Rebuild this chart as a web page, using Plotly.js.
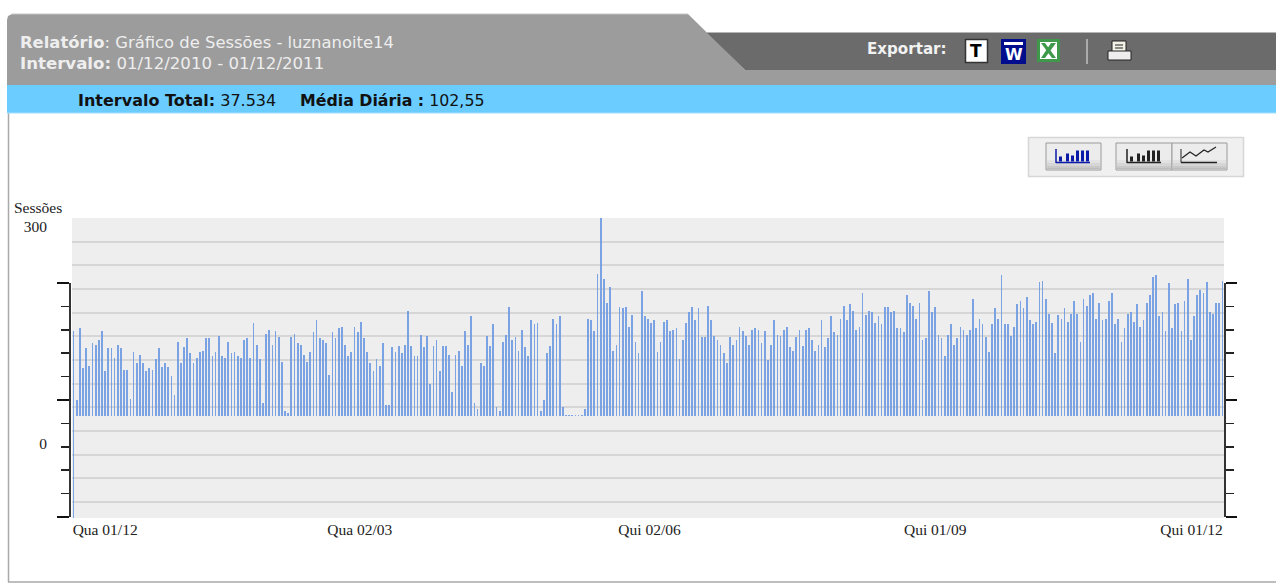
<!DOCTYPE html>
<html><head><meta charset="utf-8">
<script src="https://cdn.plot.ly/plotly-3.0.1.min.js"></script>
<style>html,body{margin:0;padding:0;background:#fff;overflow:hidden}#g{width:1276px;height:583px}</style>
</head><body><div id="g"></div>
<script>
const sessions = [
129,24,133,73,103,76,110,108,115,129,
68,103,103,88,108,103,70,70,26,97,
80,93,80,68,73,70,86,103,74,80,
74,60,32,112,80,105,118,95,80,88,
97,99,118,118,91,97,121,91,88,112,
95,97,91,88,115,118,88,141,108,86,
20,124,131,108,129,120,82,8,4,120,
124,110,108,93,82,97,127,145,118,115,
110,62,127,118,133,135,108,91,97,135,
127,143,118,97,80,68,87,76,110,16,
16,104,97,106,95,108,159,106,91,91,
123,104,121,48,106,115,68,106,106,93,
36,93,99,76,129,108,151,20,10,81,
76,121,106,139,14,8,112,123,165,115,
119,99,131,104,91,145,139,141,8,24,
95,106,147,139,151,14,2,2,2,2,
2,2,10,147,145,129,215,300,207,171,
195,99,108,165,163,165,135,153,112,95,
189,151,147,141,145,97,112,143,145,129,
131,133,87,115,141,157,165,145,163,119,
119,167,145,121,115,108,95,81,119,108,
115,135,129,121,108,131,133,131,110,129,
85,108,145,123,121,131,135,104,99,119,
131,106,131,133,115,99,108,145,104,118,
151,127,123,147,167,145,169,159,131,135,
187,153,159,157,141,151,139,165,165,157,
159,133,133,127,183,171,167,147,171,115,
118,189,157,165,123,118,91,123,139,108,
118,135,131,123,131,177,133,147,139,119,
97,139,163,147,213,139,139,121,135,169,
175,163,181,145,139,143,203,205,177,155,
141,95,153,147,163,143,155,175,155,112,
177,167,183,187,147,171,145,147,175,187,
139,147,112,133,155,157,143,169,135,145,
171,183,211,213,151,157,129,201,133,169,
171,129,175,207,115,151,183,191,187,203,
157,155,171,171,205];
const firstDayDrop = [-155];
const dayIndex = sessions.map((_, i) => i);
const xTickDays = [10, 90.7, 182.5, 273, 354.2];
const xTickLabels = ['Qua 01/12', 'Qua 02/03', 'Qui 02/06', 'Qui 01/09', 'Qui 01/12'];
const yTickVals = [0, 300];
const yTickLabels = ['0', '300'];

// L/R bound the scale axes; the bars and gridlines occupy PL..PR inside them
const L = 70, R = 1225, PL = 72, PR = 1224, T = 218, B = 518;
const px = x => (x - L) / (R - L);
const py = y => (B - y) / (B - T);
const SANS = 'DejaVu Sans', SERIF = 'Liberation Serif';

const shapes = [];
const rect = (x0, y0, x1, y1, fill, line, w, layer) => shapes.push({type:'rect', xref:'paper', yref:'paper', layer:layer||'above',
  x0:px(x0), x1:px(x1), y0:py(y0), y1:py(y1), fillcolor:fill||'rgba(0,0,0,0)',
  line:{color:line||'rgba(0,0,0,0)', width:line?(w||1):0}});
const poly = (pts, fill, line, w) => shapes.push({type:'path', xref:'paper', yref:'paper',
  path:'M'+pts.map(p => px(p[0])+','+py(p[1])).join('L')+'Z', fillcolor:fill||'rgba(0,0,0,0)',
  line:{color:line||'rgba(0,0,0,0)', width:line?(w||1):0}});
const seg = (x0, y0, x1, y1, c, w) => shapes.push({type:'line', xref:'paper', yref:'paper',
  x0:px(x0), x1:px(x1), y0:py(y0), y1:py(y1), line:{color:c, width:w||1}});

// plot background, beneath every subplot layer
rect(PL, T, PR, B, '#eeeeee', null, 0, 'below');
// frame
seg(8.5, 113, 8.5, 582, '#a9a9a9', 1.5);
seg(8, 582, 1276, 582, '#a9a9a9', 1.5);
// header
poly([[7,85],[7,20],[8,16],[12,14],[688,14],[745,70],[1276,70],[1276,85]], '#9c9c9c');
poly([[707,33],[1276,33],[1276,70],[745,70]], '#6b6b6b');
seg(12, 14, 688, 14, '#c4c4c4', 1);
seg(707, 32.5, 1276, 32.5, '#b5b5b5', 1);
rect(7, 85, 1276, 113, '#6accff');
seg(7, 113, 1276, 113, '#a5e0ff', 1);
// export icons
rect(965.5, 39.5, 987.5, 62.5, '#ffffff', '#333333', 1.5);
rect(1001, 39, 1026, 64, '#000d8c');
rect(1004, 42, 1023, 45, '#ffffff');
rect(1037, 39, 1060, 62, '#3e9a4a');
rect(1040, 42, 1057, 59, '#ffffff');
poly([[1041,43],[1045,43],[1056,58],[1052,58]], '#3e9a4a');
poly([[1051,43],[1056,43],[1045,58],[1041,58]], '#3e9a4a');
seg(1087, 39, 1087, 64, '#c0c0c0', 1.5);
// printer
rect(1112, 41, 1126, 52, '#f2f2e6', '#222222', 1);
rect(1108, 51, 1131, 60, '#eeeeee', '#222222', 1);
seg(1115, 45, 1123, 45, '#222222', 1);
seg(1115, 48, 1123, 48, '#222222', 1);
// chart-type buttons
rect(1028.5, 137.5, 1243.5, 176.5, '#f0f0f0', '#d6d6d6', 1.5);
const button = (x0, x1) => {
  rect(x0, 143, x1, 170, '#ececec', '#9a9a9a', 1);
  [[160,'#e2e2e2'],[163,'#d6d6d6'],[166,'#c8c8c8'],[168,'#bcbcbc']].forEach(b => rect(x0+1, b[0], x1-1, 169.5, b[1]));
};
button(1046, 1101); button(1116, 1172); button(1172, 1227);
const mini = (x0, c) => {
  [[3,5],[10,8],[15,6],[20,11],[25,11],[30,11]].forEach(b => rect(x0+b[0], 161.5-b[1], x0+b[0]+3, 161.5, c));
  seg(x0, 149, x0, 163, c, 1.5);
  seg(x0, 162.5, x0+34, 162.5, c, 1.5);
};
mini(1056, '#0b1aa8'); mini(1127, '#222222');
seg(1181, 149, 1181, 162.5, '#222222', 1);
seg(1181, 162.5, 1217, 162.5, '#222222', 1.5);
poly([[1182,158],[1190,152],[1196,156],[1204,150],[1208,152],[1216,147],[1208,152],[1204,150],[1196,156],[1190,152]], null, '#222222', 1.2);

const ann = (x, y, text, size, color, family) => ({xref:'paper', yref:'paper', x:px(x-2), y:py(y), xanchor:'left', yanchor:'middle',
  text, showarrow:false, align:'left', font:{family:family||SANS, size, color}});
const annotations = [
  ann(20, 42, '<b>Relatório</b>: Gráfico de Sessões - luznanoite14', 16.4, '#eeeeee'),
  ann(20, 63, '<b>Intervalo:</b> 01/12/2010 - 01/12/2011', 16.6, '#eeeeee'),
  ann(78, 100, '<b>Intervalo Total:</b> 37.534', 16, '#111111'),
  ann(300, 100, '<b>Média Diária :</b> 102,55', 15.8, '#111111'),
  ann(867, 49, '<b>Exportar:</b>', 15.1, '#f2f2f2'),
  ann(14, 207, 'Sessões', 15.5, '#222222', SERIF),
  {xref:'paper', yref:'paper', x:px(976.5), y:py(51), xanchor:'center', yanchor:'middle', text:'<b>T</b>', showarrow:false, font:{family:SANS, size:17, color:'#000000'}},
  {xref:'paper', yref:'paper', x:px(1013.5), y:py(54), xanchor:'center', yanchor:'middle', text:'<b>W</b>', showarrow:false, font:{family:SANS, size:16, color:'#ffffff'}}
];

const barColor = '#6f9be2';
const data = [
  {type:'bar', name:'Sessões', x:dayIndex, y:sessions, width:0.55, marker:{color:barColor, line:{width:0}}, opacity:0.9, hoverinfo:'x+y'},
  {type:'bar', name:'Sessões (início)', x:[dayIndex[0]], y:firstDayDrop, width:0.55, marker:{color:barColor, line:{width:0}}, opacity:0.9, hoverinfo:'skip'},
  {type:'scatter', x:[0], y:[0], yaxis:'y2', mode:'markers', marker:{opacity:0}, hoverinfo:'skip'},
  {type:'scatter', x:[0], y:[0], yaxis:'y3', mode:'markers', marker:{opacity:0}, hoverinfo:'skip'},
  {type:'scatter', x:[0], y:[0], yaxis:'y4', mode:'markers', marker:{opacity:0}, hoverinfo:'skip'}
];
const scaleAxis = {
  range:[0,10], domain:[py(517), py(283)], tickmode:'array', tickvals:[0,5,10], showticklabels:false, showgrid:false, zeroline:false,
  showline:true, linecolor:'#333333', linewidth:2, ticks:'outside', tickcolor:'#111111', tickwidth:2.5,
  minor:{tickmode:'array', tickvals:[1,2,3,4,6,7,8,9], ticks:'outside', ticklen:8, tickcolor:'#222222', tickwidth:1.5, showgrid:false}
};
const layout = {
  width:1276, height:583, autosize:false, showlegend:false, bargap:0,
  barmode:'overlay', paper_bgcolor:'#ffffff', plot_bgcolor:'rgba(0,0,0,0)',
  margin:{l:L, r:1276-R, t:T, b:583-B, pad:0},
  font:{family:SERIF, size:15, color:'#222222'},
  xaxis:{domain:[px(PL), px(PR)], range:[-0.5,364.5], tickmode:'array', tickvals:xTickDays, ticktext:xTickLabels, tickangle:0,
    ticks:'', showgrid:false, zeroline:false, showline:false, tickfont:{family:SERIF, size:15.5, color:'#222222'}},
  yaxis:{range:[-154.55,300], tick0:300, dtick:35.85, tickmode:'linear', showticklabels:false, ticks:'',
    showgrid:true, gridcolor:'#d6d6d6', gridwidth:2, zeroline:false, showline:false},
  yaxis2:Object.assign({}, scaleAxis, {anchor:'free', position:0, side:'left', ticklen:12}),
  yaxis3:Object.assign({}, scaleAxis, {overlaying:'y2', anchor:'free', position:1, side:'right', ticklen:11}),
  yaxis4:{overlaying:'y', side:'left', anchor:'x', range:[-102.3,312.4], tickmode:'array', tickvals:yTickVals, ticktext:yTickLabels,
    showgrid:false, zeroline:false, showline:false, ticks:'', ticklabelstandoff:24, tickfont:{family:SERIF, size:15.5, color:'#222222'}},
  shapes, annotations
};
Plotly.newPlot('g', data, layout, {displayModeBar:false, staticPlot:true});
</script></body></html>
